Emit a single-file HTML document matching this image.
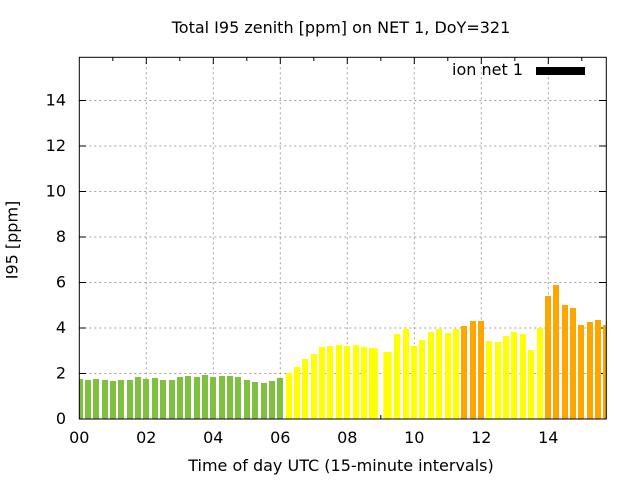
<!DOCTYPE html>
<html><head><meta charset="utf-8"><style>
html,body{margin:0;padding:0;background:#fff;}
svg{display:block;}
text{font-family:"DejaVu Sans","Liberation Sans",sans-serif;font-size:16px;fill:#000;}
</style></head><body>
<svg width="640" height="480" viewBox="0 0 640 480" xmlns="http://www.w3.org/2000/svg">
<rect width="640" height="480" fill="#fff"/>
<!-- grid -->
<g stroke="#a0a0a0" stroke-width="1" stroke-dasharray="2,3" fill="none">
<line x1="146.3" y1="57.3" x2="146.3" y2="419"/>
<line x1="213.3" y1="57.3" x2="213.3" y2="419"/>
<line x1="280.3" y1="57.3" x2="280.3" y2="419"/>
<line x1="347.3" y1="57.3" x2="347.3" y2="419"/>
<line x1="414.3" y1="57.3" x2="414.3" y2="419"/>
<line x1="481.3" y1="57.3" x2="481.3" y2="419"/>
<line x1="548.3" y1="57.3" x2="548.3" y2="419"/>
<line x1="79.3" y1="373.5" x2="606.3" y2="373.5"/>
<line x1="79.3" y1="328" x2="606.3" y2="328"/>
<line x1="79.3" y1="282.5" x2="606.3" y2="282.5"/>
<line x1="79.3" y1="237" x2="606.3" y2="237"/>
<line x1="79.3" y1="191.5" x2="606.3" y2="191.5"/>
<line x1="79.3" y1="146" x2="606.3" y2="146"/>
<line x1="79.3" y1="100.5" x2="606.3" y2="100.5"/>
</g>
<!-- ticks -->
<g stroke="#000" stroke-width="1">
<line x1="146.3" y1="419" x2="146.3" y2="412"/><line x1="213.3" y1="419" x2="213.3" y2="412"/><line x1="280.3" y1="419" x2="280.3" y2="412"/><line x1="347.3" y1="419" x2="347.3" y2="412"/><line x1="414.3" y1="419" x2="414.3" y2="412"/><line x1="481.3" y1="419" x2="481.3" y2="412"/><line x1="548.3" y1="419" x2="548.3" y2="412"/>
<line x1="146.3" y1="57.3" x2="146.3" y2="64"/><line x1="213.3" y1="57.3" x2="213.3" y2="64"/><line x1="280.3" y1="57.3" x2="280.3" y2="64"/><line x1="347.3" y1="57.3" x2="347.3" y2="64"/><line x1="414.3" y1="57.3" x2="414.3" y2="64"/><line x1="481.3" y1="57.3" x2="481.3" y2="64"/><line x1="548.3" y1="57.3" x2="548.3" y2="64"/>
<line x1="112.8" y1="57.3" x2="112.8" y2="61"/><line x1="179.8" y1="57.3" x2="179.8" y2="61"/><line x1="246.8" y1="57.3" x2="246.8" y2="61"/><line x1="313.8" y1="57.3" x2="313.8" y2="61"/><line x1="380.8" y1="57.3" x2="380.8" y2="61"/><line x1="447.8" y1="57.3" x2="447.8" y2="61"/><line x1="514.8" y1="57.3" x2="514.8" y2="61"/><line x1="581.8" y1="57.3" x2="581.8" y2="61"/>
<line x1="380.8" y1="419" x2="380.8" y2="415"/>
<line x1="79.3" y1="373.5" x2="86" y2="373.5"/><line x1="79.3" y1="328" x2="86" y2="328"/><line x1="79.3" y1="282.5" x2="86" y2="282.5"/><line x1="79.3" y1="237" x2="86" y2="237"/><line x1="79.3" y1="191.5" x2="86" y2="191.5"/><line x1="79.3" y1="146" x2="86" y2="146"/><line x1="79.3" y1="100.5" x2="86" y2="100.5"/>
<line x1="606.3" y1="373.5" x2="599" y2="373.5"/><line x1="606.3" y1="328" x2="599" y2="328"/><line x1="606.3" y1="282.5" x2="599" y2="282.5"/><line x1="606.3" y1="237" x2="599" y2="237"/><line x1="606.3" y1="191.5" x2="599" y2="191.5"/><line x1="606.3" y1="146" x2="599" y2="146"/><line x1="606.3" y1="100.5" x2="599" y2="100.5"/>
</g>
<!-- bars green -->
<g fill="#80c040">
<rect x="79.3" y="379" width="3.7" height="40"/>
<rect x="85" y="380" width="6" height="39"/>
<rect x="93" y="379" width="6" height="40"/>
<rect x="102" y="380" width="6" height="39"/>
<rect x="110" y="381" width="6" height="38"/>
<rect x="118" y="380" width="6" height="39"/>
<rect x="127" y="380" width="6" height="39"/>
<rect x="135" y="377" width="6" height="42"/>
<rect x="143" y="379" width="6" height="40"/>
<rect x="152" y="378" width="6" height="41"/>
<rect x="160" y="380" width="6" height="39"/>
<rect x="169" y="380" width="6" height="39"/>
<rect x="177" y="377" width="6" height="42"/>
<rect x="185" y="376" width="6" height="43"/>
<rect x="194" y="377" width="6" height="42"/>
<rect x="202" y="375" width="6" height="44"/>
<rect x="210" y="377" width="6" height="42"/>
<rect x="219" y="376" width="6" height="43"/>
<rect x="227" y="376" width="6" height="43"/>
<rect x="235" y="377" width="6" height="42"/>
<rect x="244" y="380" width="6" height="39"/>
<rect x="252" y="382" width="6" height="37"/>
<rect x="261" y="383" width="6" height="36"/>
<rect x="269" y="381" width="6" height="38"/>
<rect x="277" y="378" width="6" height="41"/>
</g>
<!-- bars yellow -->
<g fill="#ffff00">
<rect x="286" y="373" width="6" height="46"/>
<rect x="294" y="367" width="6" height="52"/>
<rect x="302" y="359" width="6" height="60"/>
<rect x="311" y="354" width="6" height="65"/>
<rect x="319" y="347" width="6" height="72"/>
<rect x="327" y="346" width="6" height="73"/>
<rect x="336" y="345" width="6" height="74"/>
<rect x="344" y="346" width="6" height="73"/>
<rect x="353" y="345" width="6" height="74"/>
<rect x="361" y="347" width="6" height="72"/>
<rect x="369" y="348" width="8.7" height="71"/>
<rect x="383.3" y="352" width="8.4" height="67"/>
<rect x="394" y="334" width="6" height="85"/>
<rect x="403" y="329" width="6" height="90"/>
<rect x="411" y="346" width="6" height="73"/>
<rect x="419" y="340" width="6" height="79"/>
<rect x="428" y="332" width="6" height="87"/>
<rect x="436" y="329" width="6" height="90"/>
<rect x="445" y="333" width="6" height="86"/>
<rect x="453" y="329" width="6" height="90"/>
<rect x="486" y="341" width="6" height="78"/>
<rect x="495" y="342" width="6" height="77"/>
<rect x="503" y="336" width="6" height="83"/>
<rect x="511" y="332" width="6" height="87"/>
<rect x="520" y="334" width="6" height="85"/>
<rect x="528" y="350" width="6" height="69"/>
<rect x="537" y="328" width="6" height="91"/>
</g>
<!-- bars orange -->
<g fill="#ffa500">
<rect x="461" y="326" width="6" height="93"/>
<rect x="470" y="321" width="6" height="98"/>
<rect x="478" y="321" width="6" height="98"/>
<rect x="545" y="296" width="6" height="123"/>
<rect x="553" y="285" width="6" height="134"/>
<rect x="562" y="305" width="6" height="114"/>
<rect x="570" y="308" width="6" height="111"/>
<rect x="578" y="325" width="6" height="94"/>
<rect x="587" y="322" width="6" height="97"/>
<rect x="595" y="320" width="6" height="99"/>
<rect x="603" y="325" width="3.3" height="94"/>
</g>
<!-- border -->
<rect x="79.3" y="57.3" width="527" height="361.7" fill="none" stroke="#000" stroke-width="1"/>
<!-- legend -->
<text x="523" y="75" text-anchor="end">ion net 1</text>
<rect x="536" y="67" width="49" height="8" fill="#000"/>
<!-- title -->
<text x="341" y="33" text-anchor="middle">Total I95 zenith [ppm] on NET 1, DoY=321</text>
<!-- y tick labels -->
<g text-anchor="end">
<text x="66" y="424">0</text>
<text x="66" y="378.5">2</text>
<text x="66" y="333">4</text>
<text x="66" y="287.5">6</text>
<text x="66" y="242">8</text>
<text x="66" y="196.5">10</text>
<text x="66" y="151">12</text>
<text x="66" y="105.5">14</text>
</g>
<!-- x tick labels -->
<g text-anchor="middle">
<text x="79.3" y="443">00</text>
<text x="146.3" y="443">02</text>
<text x="213.3" y="443">04</text>
<text x="280.3" y="443">06</text>
<text x="347.3" y="443">08</text>
<text x="414.3" y="443">10</text>
<text x="481.3" y="443">12</text>
<text x="548.3" y="443">14</text>
</g>
<!-- axis titles -->
<text x="341" y="471" text-anchor="middle">Time of day UTC (15-minute intervals)</text>
<text transform="translate(17.5,240) rotate(-90)" text-anchor="middle">I95 [ppm]</text>
</svg>
</body></html>
